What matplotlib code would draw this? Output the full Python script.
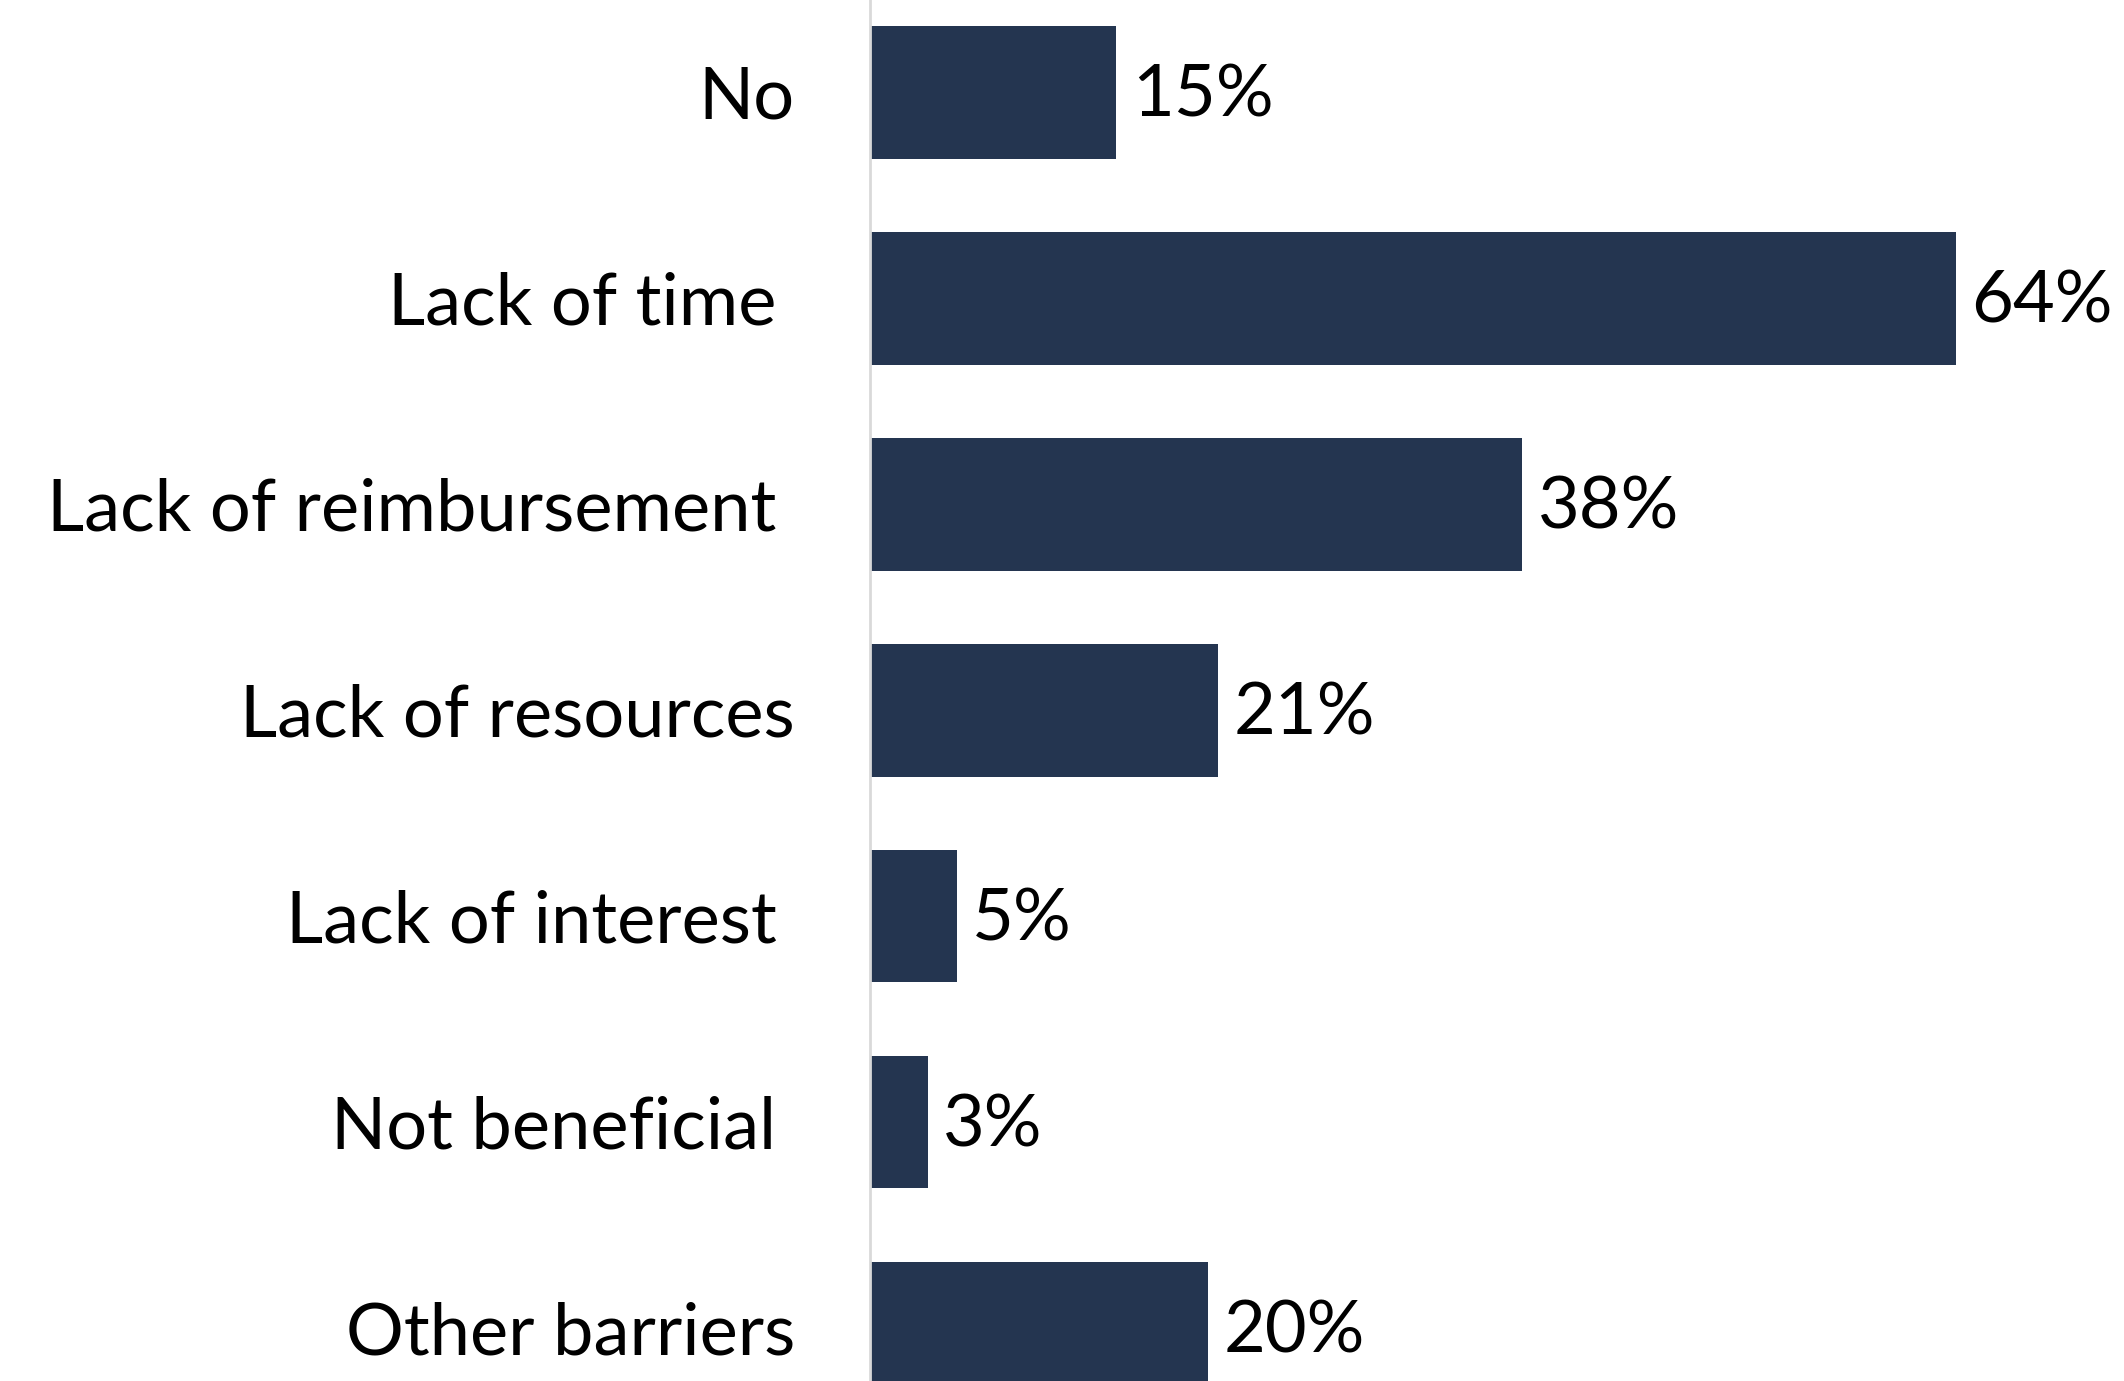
import matplotlib
matplotlib.use('Agg')
import matplotlib.pyplot as plt

# survey answers
categories = ['No', 'Lack of time ', 'Lack of reimbursement ', 'Lack of resources',
              'Lack of interest ', 'Not beneficial ', 'Other barriers']
values = [14.5, 63.9, 38.4, 20.5, 5.1, 3.4, 19.9]
value_labels = ['15%', '64%', '38%', '21%', '5%', '3%', '20%']

bar_color = '#243550'

plt.rcParams['font.family'] = ['Lato', 'DejaVu Sans']

fig = plt.figure(figsize=(21.24, 13.81), dpi=100)
ax = fig.add_axes([0.4096, 0.0, 0.5904, 1.0])

ypos = list(range(len(categories)))
ax.barh(ypos, values, height=0.645, color=bar_color)

for y, v, lab in zip(ypos, values, value_labels):
    ax.text(v + 0.9, y + 0.02, lab, va='center', ha='left', fontsize=52, color='black')

ax.set_yticks(ypos)
ax.set_yticklabels(categories, fontsize=52)
ax.tick_params(axis='y', length=0, pad=54)
ax.set_xticks([])
ax.set_xlim(0, 73.8)
ax.set_ylim(6.257, -0.447)

for side in ['top', 'right', 'bottom']:
    ax.spines[side].set_visible(False)
ax.spines['left'].set_color('#d9d9d9')
ax.spines['left'].set_linewidth(2)

# a stray letter cut off at the right edge of the original image
fig.text(0.9967, 0.465, 'N', fontsize=52, ha='left', va='center')

fig.savefig('out.png', dpi=100)
